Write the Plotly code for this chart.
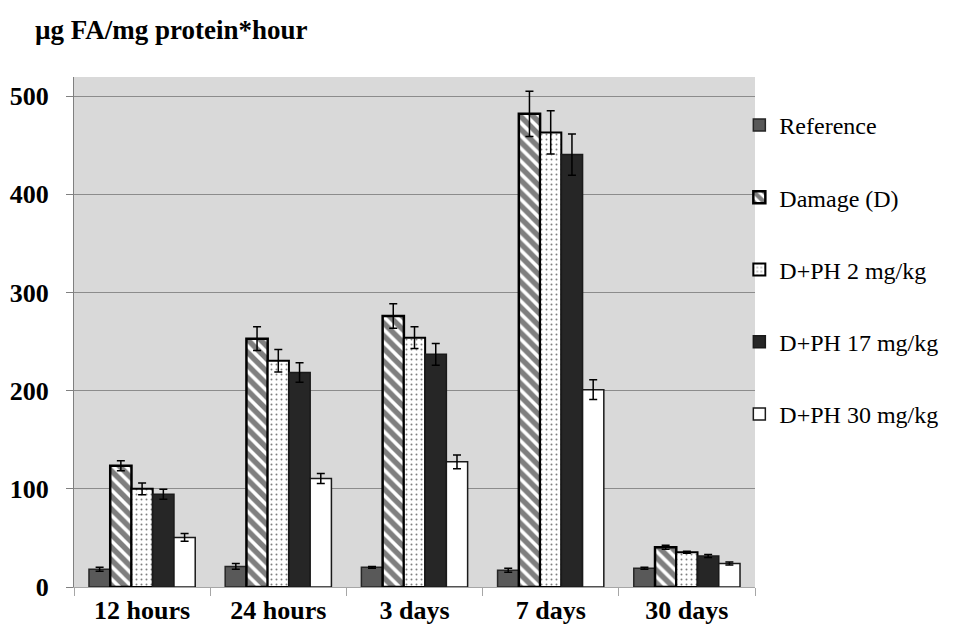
import plotly.graph_objects as go

categories = ["12 hours", "24 hours", "3 days", "7 days", "30 days"]
series_names = ["Reference", "Damage (D)", "D+PH 2 mg/kg", "D+PH 17 mg/kg", "D+PH 30 mg/kg"]

reference = [18, 21, 20, 17, 19]
reference_err = [2, 3, 1, 2, 1]
damage = [123.5, 253, 276, 482, 40.5]
damage_err = [5, 12, 12.5, 23, 2]
ph2 = [100, 230.5, 254, 463, 35.5]
ph2_err = [6, 11.5, 11, 22, 1]
ph17 = [94.5, 218.5, 237, 440.5, 31.5]
ph17_err = [5, 10, 11, 21, 1.5]
ph30 = [50.5, 110.5, 127.5, 201, 24]
ph30_err = [4, 5, 7, 10, 1.5]

values = [reference, damage, ph2, ph17, ph30]
errors = [reference_err, damage_err, ph2_err, ph17_err, ph30_err]

styles = [
    dict(color="#595959", line=dict(color="#262626", width=1.5)),
    dict(color="white", line=dict(color="black", width=2.5),
         pattern=dict(shape="\\", fgcolor="black", bgcolor="white", size=9, solidity=0.6)),
    dict(color="white", line=dict(color="black", width=2),
         pattern=dict(shape=".", fgcolor="black", bgcolor="white", size=5, solidity=0.12)),
    dict(color="#262626", line=dict(color="#1a1a1a", width=1.5)),
    dict(color="white", line=dict(color="#1a1a1a", width=1.5)),
]

fig = go.Figure()
for name, vals, errs, st in zip(series_names, values, errors, styles):
    fig.add_trace(go.Bar(
        x=categories, y=vals, name=name, marker=st, legendgroup=name,
        error_y=dict(type="data", array=errs, color="black", thickness=1.5, width=4),
    ))

serif = "Liberation Serif"
fig.update_layout(
    width=950, height=624,
    margin=dict(l=66, r=203, t=69, b=45),
    paper_bgcolor="white",
    plot_bgcolor="#d9d9d9",
    barmode="group",
    bargap=0.22,
    bargroupgap=0,
    font=dict(family=serif, color="black"),
    legend=dict(
        x=0.977, xanchor="left", y=0.949, yanchor="top",
        font=dict(family=serif, size=24, color="black"),
        tracegroupgap=38, bgcolor="rgba(0,0,0,0)",
    ),
    xaxis=dict(
        type="category", tickson="boundaries", ticks="outside", ticklen=8,
        tickcolor="#a6a6a6", showline=True, linecolor="#a6a6a6",
        tickfont=dict(family=serif, size=26, color="black", weight="bold"),
        showgrid=False, automargin=False,
    ),
    yaxis=dict(
        range=[0, 519.5], tickvals=[0, 100, 200, 300, 400, 500],
        ticks="outside", ticklen=7, tickcolor="#808080",
        showline=True, linecolor="#808080", gridcolor="#8c8c8c", gridwidth=1,
        zeroline=False, ticklabelstandoff=12,
        tickfont=dict(family=serif, size=26, color="black", weight="bold"),
        automargin=False,
    ),
    annotations=[dict(
        text="<b>µg FA/mg protein*hour</b>", xref="paper", yref="paper",
        x=-0.0602, y=1.092, xanchor="left", yanchor="middle", showarrow=False,
        font=dict(family=serif, size=27, color="black"),
    )],
)

fig.write_html("out.html")
